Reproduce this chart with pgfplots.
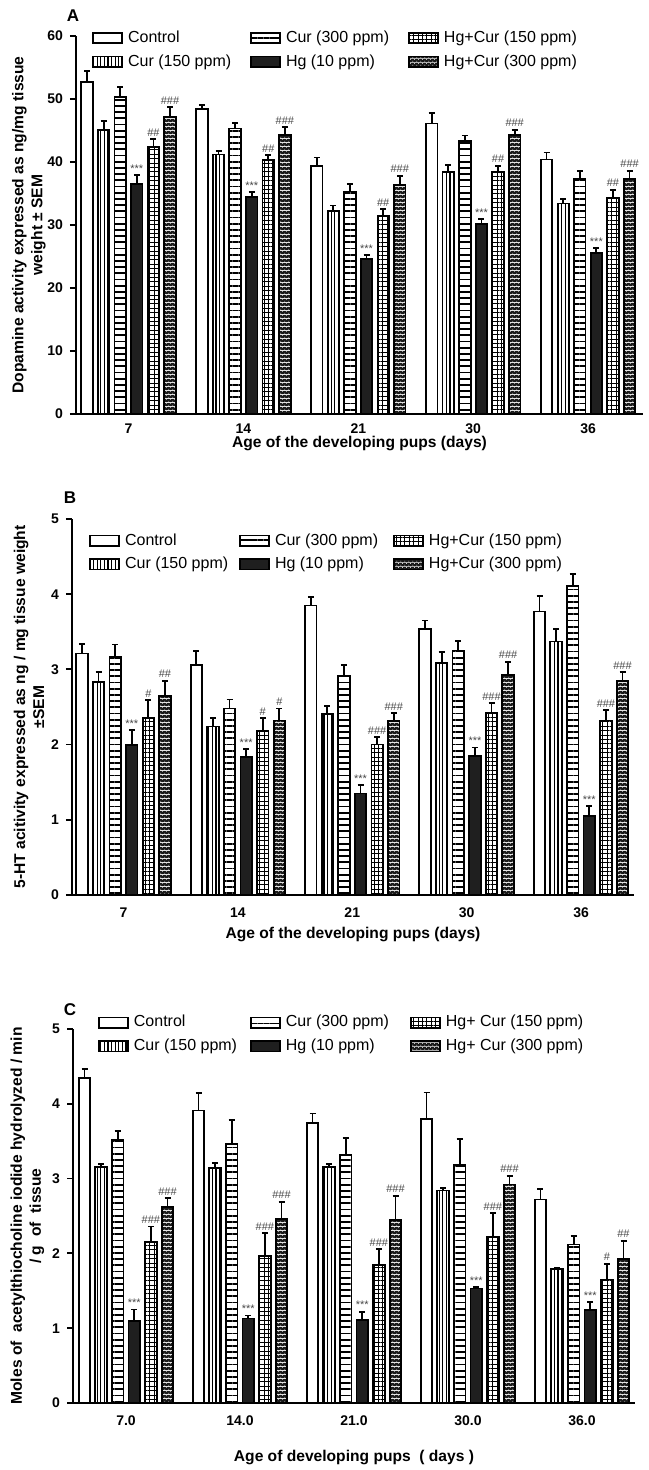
\documentclass[border=0pt]{standalone}
\usepackage{fontspec}
\setmainfont{Liberation Sans}
\usepackage{pgfplots}
\pgfplotsset{compat=1.18}
\usepackage{pgfplotstable}
\usetikzlibrary{patterns.meta}

% c=Control a=Cur150 b=Cur300 h=Hg p=Hg+Cur150 q=Hg+Cur300 ; e=SEM ; s: A=#, B=##, C=###
\pgfplotstableread{
x c ce a ae b be h he p pe ps q qe qs
0 52.7 1.8 45.1 1.4 50.3 1.6 36.5 1.4 42.4 1.2 B 47.2 1.5 C
1 48.4 0.7 41.2 0.5 45.3 0.9 34.4 0.8 40.3 0.8 B 44.3 1.2 C
2 39.4 1.3 32.2 0.9 35.3 1.2 24.6 0.6 31.4 1.1 B 36.3 1.5 C
3 46.1 1.7 38.4 1.1 43.3 0.9 30.2 0.7 38.4 1.0 B 44.3 0.8 C
4 40.4 1.1 33.4 0.7 37.3 1.3 25.6 0.7 34.3 1.3 B 37.3 1.3 C
}\tabA
\pgfplotstableread{
x c ce a ae b be h he p pe ps q qe qs
0 3.21 0.13 2.83 0.14 3.16 0.17 1.99 0.20 2.35 0.24 A 2.65 0.20 B
1 3.06 0.18 2.24 0.11 2.48 0.12 1.84 0.10 2.18 0.17 A 2.32 0.16 A
2 3.85 0.11 2.41 0.10 2.91 0.15 1.35 0.11 2.00 0.10 C 2.31 0.11 C
3 3.54 0.11 3.09 0.14 3.25 0.13 1.85 0.11 2.42 0.13 C 2.93 0.17 C
4 3.77 0.21 3.37 0.17 4.11 0.16 1.05 0.13 2.32 0.14 C 2.85 0.11 C
}\tabB
\pgfplotstableread{
x c ce a ae b be h he p pe ps q qe qs
0 4.34 0.13 3.16 0.03 3.52 0.12 1.10 0.15 2.15 0.21 C 2.62 0.12 C
1 3.91 0.23 3.14 0.07 3.46 0.32 1.13 0.04 1.96 0.31 C 2.46 0.23 C
2 3.74 0.13 3.16 0.03 3.32 0.22 1.11 0.11 1.85 0.21 C 2.45 0.32 C
3 3.80 0.35 2.84 0.03 3.18 0.35 1.53 0.02 2.22 0.32 C 2.92 0.12 C
4 2.72 0.14 1.79 0.02 2.12 0.11 1.24 0.11 1.65 0.21 A 1.92 0.25 B
}\tabC

\def\hashA{\#}
\def\hashB{\#\#}
\def\hashC{\#\#\#}

\tikzdeclarepattern{
  name=darkdots, type=colored,
  bottom left={(0pt,0pt)}, top right={(2pt,2pt)}, tile size={(2pt,2pt)},
  code={\fill[black!90] (0pt,0pt) rectangle (2pt,2pt);
        \fill[white] (0.5pt,0.5pt) circle (0.26pt);
        \fill[white] (1.5pt,1.5pt) circle (0.26pt);}
}

\tikzset{
  bctrl/.style={fill=white, draw=black},
  bc150/.style={draw=black, pattern={Lines[angle=90,distance=1.8pt,line width=0.55pt]}},
  bc300/.style={draw=black, pattern={Lines[angle=0,distance=3.1pt,line width=0.9pt]}},
  bhg/.style={fill=black!88, draw=black},
  bh150/.style={draw=black, pattern={Hatch[angle=0,distance=2.2pt,line width=0.5pt]}},
  bh300/.style={draw=black, pattern=darkdots},
}

\pgfplotsset{
  panel/.style={
    scale only axis, ybar, bar width=5.75pt,
    axis lines*=left, axis line style={line width=0.9pt},
    tick align=outside, major tick length=3pt,
    ytick style={line width=0.9pt, black},
    xtick={0,...,4}, xtick style={draw=none},
    ymin=0, clip=false,
    ticklabel style={font=\fontsize{7}{8}\selectfont\bfseries},
    /pgf/number format/assume math mode=true,
    label style={font=\fontsize{7.8}{9.5}\selectfont\bfseries},
    ylabel style={anchor=center, align=center},
    xlabel style={anchor=center},
    legend columns=3, legend cell align=left,
    legend image code/.code={\draw[##1, line width=0.9pt] (0pt,-2.6pt) rectangle (14.5pt,2.6pt);},
    legend style={draw=none, fill=none, inner sep=0pt, anchor=north west,
      font=\fontsize{8}{9}\selectfont, nodes={inner xsep=2.5pt, inner ysep=1pt}, row sep=2.5pt},
  },
  err/.style={line width=0.9pt, forget plot,
    error bars/y dir=plus, error bars/y explicit,
    error bars/error bar style={line width=0.9pt, black, solid},
    error bars/error mark options={rotate=90, mark size=1.5pt, line width=0.9pt, black}},
  sig/.style={visualization depends on={\thisrow{#1}\as\err},
    every node near coord/.append style={shift={(axis direction cs:0,\err)},
      font=\fontsize{5.5}{6}\selectfont, text=black!72, inner sep=1pt}},
  hashes/.style={point meta=explicit symbolic,
    nodes near coords={\csname hash\pgfplotspointmeta\endcsname}},
}

\begin{document}
\begin{tikzpicture}
\useasboundingbox (0,0) rectangle (324pt,735pt);

% ---------------- A ----------------
\begin{axis}[panel, at={(38pt,528pt)}, anchor=south west,
  width=283.5pt, height=189pt, xmin=-0.457, xmax=4.478, ymax=60,
  ytick={0,10,...,60}, xticklabels={7,14,21,30,36},
  xticklabel style={yshift=1.5pt},
  ylabel={Dopamine activity expressed as ng/mg tissue\\weight ± SEM},
  ylabel style={at={(axis description cs:-0.083,0.5)}},
  xlabel={Age of the developing pups (days)},
  xlabel style={at={(axis description cs:0.5,-0.079)}},
  legend style={at={(axis description cs:0.028,1.02)},
    /tikz/column 2/.style={column sep=7pt}, /tikz/column 4/.style={column sep=7pt}}]
\addplot[bctrl, bar shift=-20.75pt, err] table[x=x, y=c, y error=ce]{\tabA};
\addplot[bc150, bar shift=-12.45pt, err] table[x=x, y=a, y error=ae]{\tabA};
\addplot[bc300, bar shift=-4.15pt, err] table[x=x, y=b, y error=be]{\tabA};
\addplot[bhg, bar shift=4.15pt, err, sig=he, nodes near coords={***}] table[x=x, y=h, y error=he]{\tabA};
\addplot[bh150, bar shift=12.45pt, err, sig=pe, hashes] table[x=x, y=p, y error=pe, meta=ps]{\tabA};
\addplot[bh300, bar shift=20.75pt, err, sig=qe, hashes] table[x=x, y=q, y error=qe, meta=qs]{\tabA};
\addlegendimage{bctrl}\addlegendentry{Control}
\addlegendimage{bc300}\addlegendentry{Cur (300 ppm)}
\addlegendimage{bh150}\addlegendentry{Hg+Cur (150 ppm)}
\addlegendimage{bc150}\addlegendentry{Cur (150 ppm)}
\addlegendimage{bhg}\addlegendentry{Hg (10 ppm)}
\addlegendimage{bh300}\addlegendentry{Hg+Cur (300 ppm)}
\end{axis}

% ---------------- B ----------------
\begin{axis}[panel, at={(36pt,287.5pt)}, anchor=south west,
  width=281pt, height=188pt, xmin=-0.45, xmax=4.463, ymax=5,
  ytick={0,...,5}, xticklabels={7,14,21,30,36},
  ylabel={5-HT acitivity expressed as ng / mg tissue weight\\±SEM},
  ylabel style={at={(axis description cs:-0.0765,0.5)}},
  xlabel={Age of the developing pups (days)},
  xlabel style={at={(axis description cs:0.5,-0.106)}},
  legend style={at={(axis description cs:0.030,0.968)},
    /tikz/column 2/.style={column sep=3pt}, /tikz/column 4/.style={column sep=5pt}}]
\addplot[bctrl, bar shift=-20.75pt, err] table[x=x, y=c, y error=ce]{\tabB};
\addplot[bc150, bar shift=-12.45pt, err] table[x=x, y=a, y error=ae]{\tabB};
\addplot[bc300, bar shift=-4.15pt, err] table[x=x, y=b, y error=be]{\tabB};
\addplot[bhg, bar shift=4.15pt, err, sig=he, nodes near coords={***}] table[x=x, y=h, y error=he]{\tabB};
\addplot[bh150, bar shift=12.45pt, err, sig=pe, hashes] table[x=x, y=p, y error=pe, meta=ps]{\tabB};
\addplot[bh300, bar shift=20.75pt, err, sig=qe, hashes] table[x=x, y=q, y error=qe, meta=qs]{\tabB};
\addlegendimage{bctrl}\addlegendentry{Control}
\addlegendimage{bc300}\addlegendentry{Cur (300 ppm)}
\addlegendimage{bh150}\addlegendentry{Hg+Cur (150 ppm)}
\addlegendimage{bc150}\addlegendentry{Cur (150 ppm)}
\addlegendimage{bhg}\addlegendentry{Hg (10 ppm)}
\addlegendimage{bh300}\addlegendentry{Hg+Cur (300 ppm)}
\end{axis}

% ---------------- C ----------------
\begin{axis}[panel, at={(36.5pt,33.5pt)}, anchor=south west,
  width=281pt, height=187pt, xmin=-0.465, xmax=4.465, ymax=5,
  ytick={0,...,5}, xticklabels={7.0,14.0,21.0,30.0,36.0},
  ylabel={Moles of \ acetylthiocholine iodide hydrolyzed / min\\/ g \ of \ tissue},
  ylabel style={at={(axis description cs:-0.081,0.5)}},
  xlabel={Age of developing pups \ ( days )},
  xlabel style={at={(axis description cs:0.5,-0.147)}},
  legend style={at={(axis description cs:0.044,1.043)},
    /tikz/column 2/.style={column sep=4pt}, /tikz/column 4/.style={column sep=8pt}}]
\addplot[bctrl, bar shift=-20.75pt, err] table[x=x, y=c, y error=ce]{\tabC};
\addplot[bc150, bar shift=-12.45pt, err] table[x=x, y=a, y error=ae]{\tabC};
\addplot[bc300, bar shift=-4.15pt, err] table[x=x, y=b, y error=be]{\tabC};
\addplot[bhg, bar shift=4.15pt, err, sig=he, nodes near coords={***}] table[x=x, y=h, y error=he]{\tabC};
\addplot[bh150, bar shift=12.45pt, err, sig=pe, hashes] table[x=x, y=p, y error=pe, meta=ps]{\tabC};
\addplot[bh300, bar shift=20.75pt, err, sig=qe, hashes] table[x=x, y=q, y error=qe, meta=qs]{\tabC};
\addlegendimage{bctrl}\addlegendentry{Control}
\addlegendimage{bc300}\addlegendentry{Cur (300 ppm)}
\addlegendimage{bh150}\addlegendentry{Hg+ Cur (150 ppm)}
\addlegendimage{bc150}\addlegendentry{Cur (150 ppm)}
\addlegendimage{bhg}\addlegendentry{Hg (10 ppm)}
\addlegendimage{bh300}\addlegendentry{Hg+ Cur (300 ppm)}
\end{axis}

\node[font=\fontsize{8.5}{9}\selectfont\bfseries] at (36.5pt,727pt) {A};
\node[font=\fontsize{8.5}{9}\selectfont\bfseries] at (35pt,486pt) {B};
\node[font=\fontsize{8.5}{9}\selectfont\bfseries] at (35pt,230pt) {C};
\end{tikzpicture}
\end{document}
